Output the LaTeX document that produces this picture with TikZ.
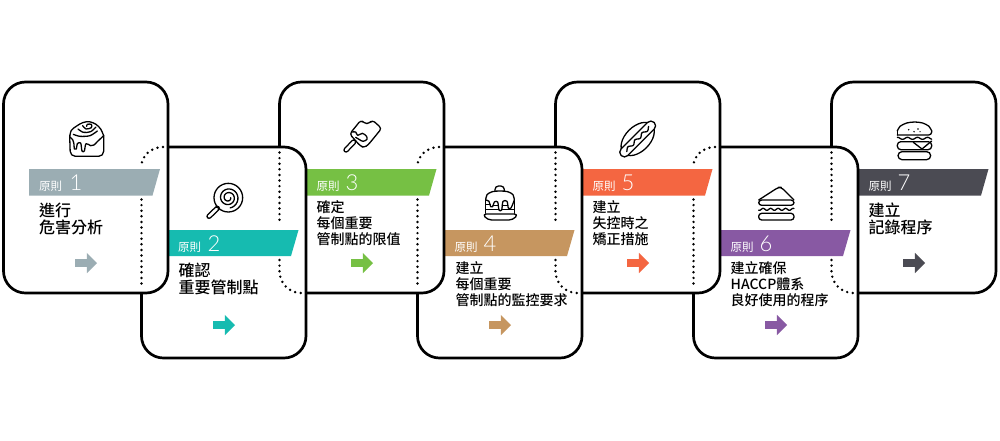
\documentclass[tikz,border=0pt]{standalone}
\usepackage{fontspec}
\setmainfont{Noto Sans CJK TC}
\newfontfamily\bodyfont{Noto Sans CJK TC}[UprightFont=* Medium]
\newfontfamily\numfont{Lato}[UprightFont=* Light]
\usetikzlibrary{shapes.arrows}
\definecolor{rulegrey}{HTML}{9BADB3}
\definecolor{ruleteal}{HTML}{16BBB0}
\definecolor{rulegreen}{HTML}{76C044}
\definecolor{ruletan}{HTML}{C69660}
\definecolor{rulered}{HTML}{F46641}
\definecolor{rulepurple}{HTML}{8859A3}
\definecolor{ruleslate}{HTML}{4B4B53}
\tikzset{
    cardbox/.style={draw=black,fill=white,line width=2.7pt,rounded corners=22pt,minimum width=164.5pt,minimum height=211pt,anchor=north west,outer sep=0pt},
    rulelabel/.style={anchor=base west,text=white,inner sep=0pt,font=\fontsize{11.5}{12}\selectfont},
    rulenum/.style={anchor=base west,text=white,inner sep=0pt,font=\numfont\fontsize{22}{23}\selectfont},
    bigtext/.style={anchor=west,align=left,inner sep=0pt,font=\bodyfont\fontsize{16}{17.7}\selectfont},
    smalltext/.style={anchor=west,align=left,inner sep=0pt,font=\bodyfont\fontsize{14}{16.2}\selectfont},
    nextarrow/.style={single arrow,fill=#1,inner xsep=0pt,inner ysep=3.6pt,outer sep=0pt,minimum height=22pt,minimum width=20pt,single arrow head extend=6.4pt,anchor=tail},
    dotline/.style={line width=2.7pt,line cap=round,dash pattern=on 0pt off 5.6pt},
    iconbase/.style={x=.3333pt,y=-.3333pt,line width=1.3pt,line join=round,line cap=round},
}
\begin{document}
\begin{tikzpicture}[x=1pt,y=-1pt]
    \useasboundingbox (0,0) rectangle (1000,440);
    % Principle 7
    \node[cardbox] (card7) at (831.5,82) {};
    \fill[ruleslate] (859,169) -- (988.5,169) -- (981,195.5) -- (859,195.5) -- cycle;
    \node[rulelabel] (label7) at (868.5,190.5) {原則};
    \node[rulenum] (num7) at (897.5,190.5) {7};
    \node[bigtext] (text7) at (868.5,219) {建立\\記錄程序};
    \node[nextarrow=ruleslate] (arrow7) at (903,263) {};
    % Principle 6
    \node[cardbox] (card6) at (693.5,147) {};
    \fill[rulepurple] (721,230) -- (850.5,230) -- (843,256) -- (721,256) -- cycle;
    \node[rulelabel] (label6) at (730.5,251) {原則};
    \node[rulenum] (num6) at (759.5,251) {6};
    \node[smalltext] (text6) at (730.5,284) {建立確保\\HACCP體系\\良好使用的程序};
    \node[nextarrow=rulepurple] (arrow6) at (765,325) {};
    % Principle 5
    \node[cardbox] (card5) at (555.5,82) {};
    \fill[rulered] (583,169) -- (712.5,169) -- (705,195.5) -- (583,195.5) -- cycle;
    \node[rulelabel] (label5) at (592.5,190.5) {原則};
    \node[rulenum] (num5) at (621.5,190.5) {5};
    \node[smalltext] (text5) at (592.5,223) {建立\\失控時之\\矯正措施};
    \node[nextarrow=rulered] (arrow5) at (627,263) {};
    % Principle 4
    \node[cardbox] (card4) at (417.5,147) {};
    \fill[ruletan] (445,230) -- (574.5,230) -- (567,256) -- (445,256) -- cycle;
    \node[rulelabel] (label4) at (454.5,251) {原則};
    \node[rulenum] (num4) at (483.5,251) {4};
    \node[smalltext] (text4) at (455.5,284) {建立\\每個重要\\管制點的監控要求};
    \node[nextarrow=ruletan] (arrow4) at (489,325) {};
    % Principle 3
    \node[cardbox] (card3) at (279.5,82) {};
    \fill[rulegreen] (307,169) -- (436.5,169) -- (429,195.5) -- (307,195.5) -- cycle;
    \node[rulelabel] (label3) at (316.5,190.5) {原則};
    \node[rulenum] (num3) at (345.5,190.5) {3};
    \node[smalltext] (text3) at (316.5,223) {確定\\每個重要\\管制點的限值};
    \node[nextarrow=rulegreen] (arrow3) at (351,263) {};
    % Principle 2
    \node[cardbox] (card2) at (141.5,147) {};
    \fill[ruleteal] (169,230) -- (298.5,230) -- (291,256) -- (169,256) -- cycle;
    \node[rulelabel] (label2) at (178,251) {原則};
    \node[rulenum] (num2) at (207.5,251) {2};
    \node[bigtext] (text2) at (178.5,279) {確認\\重要管制點};
    \node[nextarrow=ruleteal] (arrow2) at (213,325) {};
    % Principle 1
    \node[cardbox] (card1) at (3.5,82) {};
    \fill[rulegrey] (29,169) -- (160,169) -- (152.5,195.5) -- (29,195.5) -- cycle;
    \node[rulelabel] (label1) at (39,190.5) {原則};
    \node[rulenum] (num1) at (69.5,190.5) {1};
    \node[bigtext] (text1) at (39,219) {進行\\危害分析};
    \node[nextarrow=rulegrey] (arrow1) at (75,263) {};
    % Hidden card edges
    \draw[dotline] (163,147) .. controls (151,147) and (141.5,156) .. (141.5,166);
    \draw[dotline] (141.5,199.5) -- (141.5,287);
    \draw[dotline] (279.5,152.5) -- (279.5,225);
    \draw[dotline] (279.5,260) -- (279.5,271) .. controls (279.5,283) and (289,293) .. (301,293);
    \draw[dotline] (439,147) .. controls (427,147) and (417.5,156) .. (417.5,166);
    \draw[dotline] (417.5,199.5) -- (417.5,287);
    \draw[dotline] (555.5,152.5) -- (555.5,225);
    \draw[dotline] (555.5,260) -- (555.5,271) .. controls (555.5,283) and (565,293) .. (577,293);
    \draw[dotline] (715,147) .. controls (703,147) and (693.5,156) .. (693.5,166);
    \draw[dotline] (693.5,199.5) -- (693.5,287);
    \draw[dotline] (831.5,152.5) -- (831.5,225);
    \draw[dotline] (831.5,260) -- (831.5,271) .. controls (831.5,283) and (841,293) .. (853,293);
    % Bun
    \begin{scope}[shift={(60,115)},iconbase]
        \draw[rounded corners=5pt] (29,62) -- (31,124) -- (131,124) -- (131,62);
        \draw plot[smooth] coordinates {(29,66) (34,46) (50,33) (68,23) (88,20) (108,28) (122,42) (131,62)};
        \draw plot[smooth] coordinates {(29,66) (38,74) (42,88) (43,102) (49,102) (52,86) (62,84) (66,108) (73,108) (78,86) (92,92) (102,90) (112,80) (131,62)};
        \draw plot[smooth] coordinates {(40,58) (60,64) (90,62) (112,48)};
        \draw plot[smooth] coordinates {(54,42) (70,52) (92,50) (108,36)};
        \draw plot[smooth] coordinates {(68,32) (78,42) (94,38) (94,28) (82,28) (80,34)};
    \end{scope}
    % Lollipop
    \begin{scope}[shift={(200,175)},iconbase]
        \draw (85,68) circle (43);
        \draw plot[domain=0:800,samples=60,smooth] ({85+(7+\x/33)*cos(\x)},{68+(7+\x/33)*sin(\x)});
        \draw[line width=5.4pt] (52,100) -- (27,124);
        \draw[white,line width=2.6pt] (50,102) -- (27,124);
    \end{scope}
    % Ice pop
    \begin{scope}[shift={(335,110)},iconbase]
        \draw[line width=5.4pt] (56,96) -- (33,120);
        \draw[white,line width=2.6pt] (56,96) -- (33,120);
        \draw[fill=white,rounded corners=3pt] (44,72) -- (78,30) -- (88,40) -- (102,41) -- (112,30) -- (140,55) -- (100,104) -- (88,113) -- (76,108) -- cycle;
        \draw plot[smooth] coordinates {(52,66) (62,66) (68,76) (82,70) (94,78) (96,88) (84,94) (72,88) (62,82)};
    \end{scope}
    % Pancakes
    \begin{scope}[shift={(475,180)},iconbase]
        \draw[rounded corners=3.5pt] (60,33) -- (60,18) -- (88,18) -- (88,33);
        \draw plot[smooth] coordinates {(32,60) (36,44) (52,35) (75,33) (98,35) (114,44) (118,60)};
        \draw (32,60) -- (32,100) (118,60) -- (118,100);
        \draw plot[smooth] coordinates {(32,60) (42,64) (47,80) (53,80) (58,66) (68,66) (72,90) (80,90) (84,64) (96,64) (100,84) (108,84) (118,60)};
        \draw (32,74) -- (46,74) (32,88) -- (70,88) (54,76) -- (70,76) (82,76) -- (98,76) (82,88) -- (118,88);
        \draw[rounded corners=4pt] (22,102) -- (130,102) -- (114,120) -- (38,120) -- cycle;
    \end{scope}
    % Hot dog
    \begin{scope}[shift={(615,115)},iconbase]
        \begin{scope}[shift={(68,72)},rotate=45]
            \draw (0,0) ellipse (60 and 37);
            \draw[fill=white,rounded corners=4.5pt] (-70,-14) rectangle (70,14);
            \draw plot[domain=-50:50,samples=40,smooth] (\x,{4*sin(\x*12)});
        \end{scope}
    \end{scope}
    % Sandwich
    \begin{scope}[shift={(750,180)},iconbase]
        \draw[rounded corners=3pt] (26,60) -- (85,22) -- (94,22) -- (132,60);
        \draw[rounded corners=3pt] (26,60) rectangle (132,76);
        \draw plot[domain=26:132,samples=50,smooth] (\x,{88+3*sin(\x*16)});
        \draw[rounded corners=3pt] (26,100) rectangle (132,120);
    \end{scope}
    % Burger
    \begin{scope}[shift={(890,115)},iconbase]
        \draw[rounded corners=3pt] (22,60) -- (125,60) -- (125,48);
        \draw plot[smooth] coordinates {(22,48) (30,34) (50,24) (74,21) (98,24) (117,34) (125,48)};
        \draw (22,48) -- (22,60);
        \fill (56,44) circle (2.5) (72,50) circle (2.5) (84,42) circle (2.5) (90,50) circle (2);
        \draw plot[domain=22:125,samples=50,smooth] (\x,{70+3*sin(\x*12)});
        \draw[rounded corners=3.5pt] (22,80) rectangle (125,104);
        \draw (70,82) -- (96,102) -- (125,78);
        \draw[rounded corners=4pt] (24,110) rectangle (122,134);
    \end{scope}
\end{tikzpicture}
\end{document}
